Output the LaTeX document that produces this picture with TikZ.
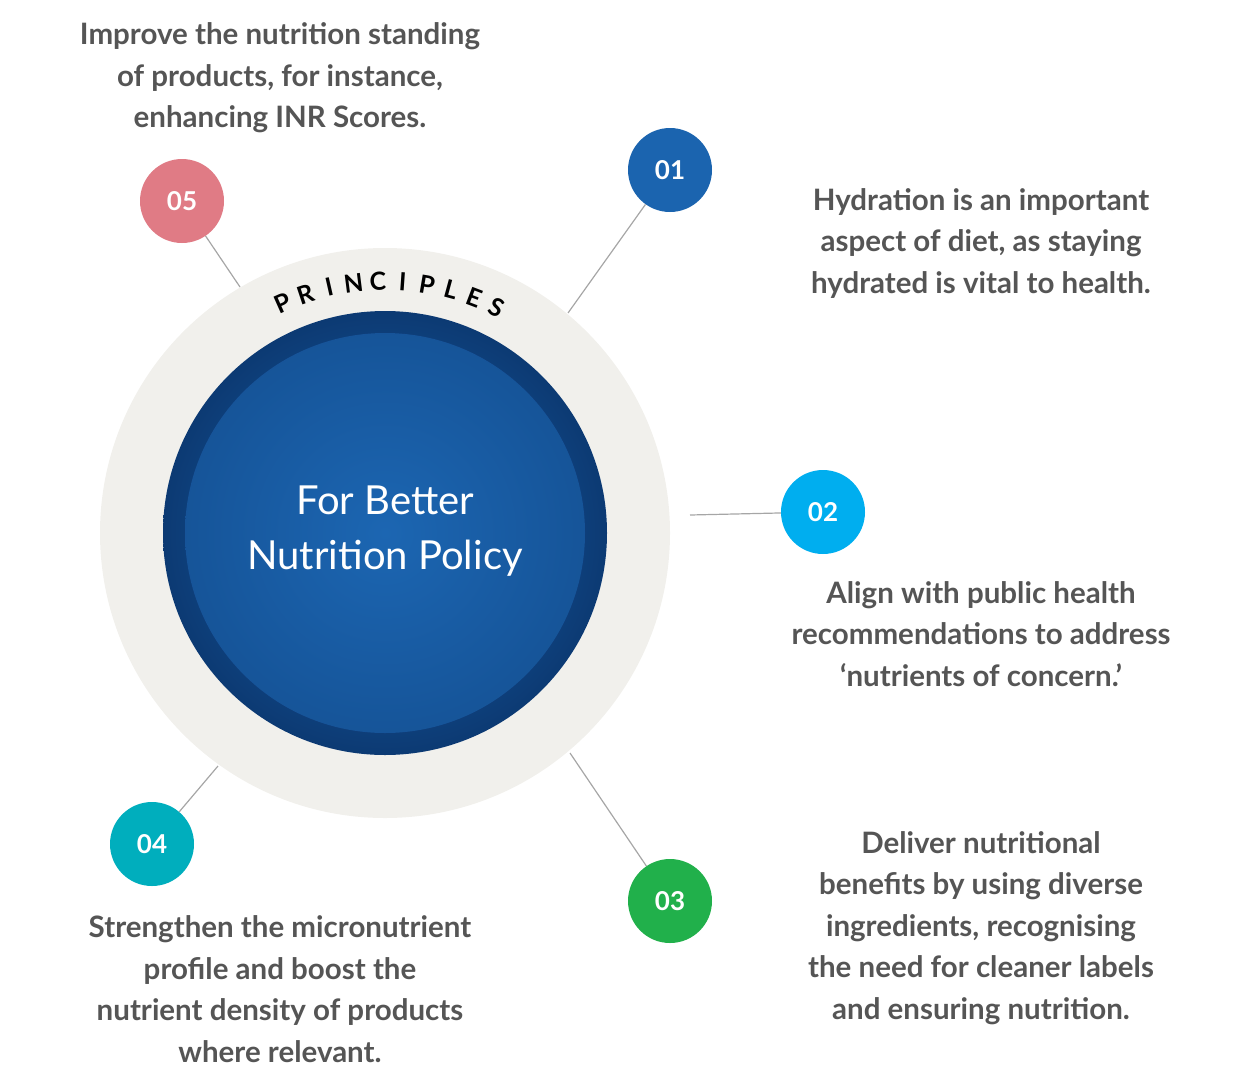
\documentclass[tikz,border=0pt]{standalone}
\usepackage{fontspec}
\setmainfont{Lato}
\usetikzlibrary{shadings}
\definecolor{txt}{HTML}{555555}
\definecolor{ringc}{HTML}{F1F0EC}
\definecolor{c1}{HTML}{1B64AF}
\definecolor{c2}{HTML}{00AEEF}
\definecolor{c3}{HTML}{21B04B}
\definecolor{c4}{HTML}{00AEBD}
\definecolor{c5}{HTML}{E07B85}
\definecolor{bluein}{HTML}{1C66B2}
\definecolor{blueout}{HTML}{0C3A73}
\begin{document}
\begin{tikzpicture}[x=1pt,y=-1pt,
  num/.style={circle,minimum size=84pt,inner sep=0pt,text=white,font=\fontsize{26}{30}\selectfont\bfseries},
  desc/.style={align=center,text=txt,font=\fontsize{29.5}{41.5}\selectfont\bfseries},
  conn/.style={draw=gray!70,line width=1.2pt}]
\useasboundingbox (0,0) rectangle (1236,1087);
\fill[ringc] (385,533) circle (285);
\shade[inner color=bluein,outer color=blueout] (385,533) circle (222);
\fill[bluein,opacity=0.6] (385,533) circle (150);
\shade[inner color=bluein,outer color=bluein!60!blueout] (385,533) circle (200);
\node[text=white,align=center,font=\fontsize{40}{55}\selectfont] (center) at (385,531) {For Better\\Nutrition Policy};
\foreach \l [count=\i] in {P,R,I,N,C,I,P,L,E,S}{
  \pgfmathsetmacro{\a}{114-(\i-1)*5.6}
  \node[font=\fontsize{25}{25}\selectfont\bfseries,text=black,rotate=\a-90] (p\i) at ({385+252*cos(\a)},{533-252*sin(\a)}) {\l};
}
\node[num,fill=c1] (n1) at (670,170) {01};
\node[num,fill=c2] (n2) at (823,512) {02};
\node[num,fill=c3] (n3) at (670,901) {03};
\node[num,fill=c4] (n4) at (152,844) {04};
\node[num,fill=c5] (n5) at (182,201) {05};
\coordinate (e1) at (568,313);
\coordinate (e2) at (690,515);
\coordinate (e3) at (570,753);
\coordinate (e4) at (218,766);
\coordinate (e5) at (240,287);
\draw[conn] (e1) -- (n1);
\draw[conn] (e2) -- (n2);
\draw[conn] (e3) -- (n3);
\draw[conn] (e4) -- (n4);
\draw[conn] (e5) -- (n5);
\node[desc] (t5) at (280,78) {Improve the nutrition standing\\of products, for instance,\\enhancing INR Scores.};
\node[desc] (t1) at (981,243) {Hydration is an important\\aspect of diet, as staying\\hydrated is vital to health.};
\node[desc] (t2) at (981,634) {Align with public health\\recommendations to address\\‘nutrients of concern.’};
\node[desc] (t3) at (981,928) {Deliver nutritional\\benefits by using diverse\\ingredients, recognising\\the need for cleaner labels\\and ensuring nutrition.};
\node[desc] (t4) at (280,989) {Strengthen the micronutrient\\profile and boost the\\nutrient density of products\\where relevant.};
\end{tikzpicture}
\end{document}
